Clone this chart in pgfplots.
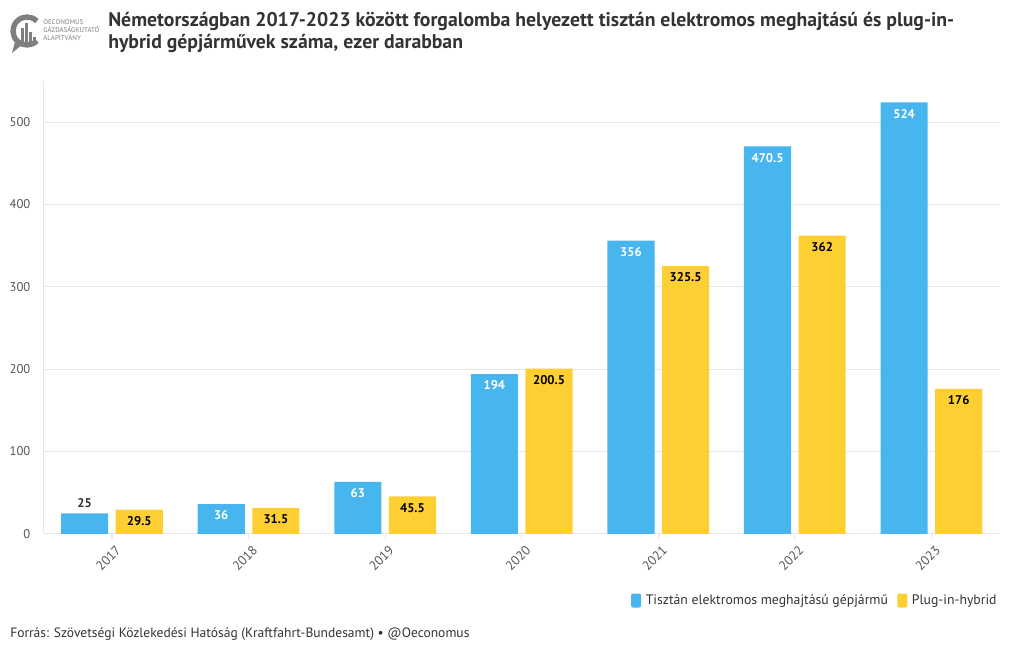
\documentclass[border=0pt]{standalone}
\usepackage{pgfplots}
\pgfplotsset{compat=1.18}
\usepackage{pgfplotstable}
\usepackage{fontspec}
\setmainfont{PT Sans}

\definecolor{bluebar}{HTML}{47B6EF}
\definecolor{yellowbar}{HTML}{FDCF32}
\definecolor{txt}{HTML}{333333}
\definecolor{ticktxt}{HTML}{555555}
\definecolor{gridc}{HTML}{E6E6E6}
\definecolor{logog}{HTML}{7F7F7F}

% values in thousand vehicles
\pgfplotstableread{
x ev phev
0 25 29.5
1 36 31.5
2 63 45.5
3 194 200.5
4 356 325.5
5 470.5 362
6 524 176
}\datatable

\begin{document}
\begin{tikzpicture}[x=0.75pt,y=0.75pt]
\path[use as bounding box] (0,0) rectangle (1020,650);

% logo
\draw[logog, line width=4pt] (27,619) ++(45:14) arc (45:315:14);
\fill[logog] (15,608) -- (12,597) -- (23,606) -- cycle;
\fill[logog] (21,607) rectangle (24,622);
\fill[logog] (25,607) rectangle (28,627);
\fill[logog] (29,607) rectangle (32,618);
\fill[logog] (33,607) rectangle (36,613);
\node[anchor=west, align=left, inner sep=0, text=logog,
      font=\fontsize{5.2}{6}\selectfont] at (43,620)
      {OECONOMUS\\GAZDASÁGKUTATÓ\\ALAPÍTVÁNY};

% title
\node[anchor=north west, align=left, inner sep=0, text=txt,
      font=\fontsize{14.8}{16.5}\selectfont\bfseries] at (108,638)
  {Németországban 2017-2023 között forgalomba helyezett tisztán elektromos meghajtású és plug-in-\\hybrid gépjárművek száma, ezer darabban};

\begin{axis}[
    at={(32,141)}, anchor=south west,
    scale only axis,
    width=717pt, height=339.75pt,
    xmin=-0.5, xmax=6.5,
    ymin=0, ymax=550,
    xtick={0,...,6},
    xticklabels={2017,2018,2019,2020,2021,2022,2023},
    ytick={0,100,200,300,400,500},
    axis x line*=bottom,
    axis y line*=left,
    axis line style={gridc, line width=0.8pt, -},
    ymajorgrids,
    grid style={gridc, line width=0.6pt},
    tick align=outside,
    ytick style={draw=none},
    xtick style={gridc, line width=0.8pt},
    major tick length=4pt,
    x tick label style={rotate=45, anchor=east, text=ticktxt,
        font=\fontsize{9.8}{11}\selectfont, inner sep=0pt, xshift=-1pt, yshift=-8pt},
    y tick label style={text=ticktxt, font=\fontsize{9.5}{11}\selectfont, xshift=-2.5pt},
    yticklabel style={/pgf/number format/assume math mode=true},
    legend style={at={(1.004,-0.148)}, anchor=east, draw=none, fill=none,
        legend columns=2, font=\fontsize{10.3}{12}\selectfont, text=txt,
        /tikz/every odd column/.append style={column sep=1.5pt},
        /tikz/every even column/.append style={column sep=5pt}},
    legend cell align=left,
]
\addplot[ybar, bar width=0.345, bar shift=-0.2, fill=bluebar, draw=none,
    legend image code/.code={\fill[bluebar, rounded corners=1.5pt] (0pt,-5pt) rectangle (7.5pt,5.5pt);}]
    table[x=x, y=ev] {\datatable};
\addlegendentry{Tisztán elektromos meghajtású gépjármű}
\addplot[ybar, bar width=0.345, bar shift=0.2, fill=yellowbar, draw=none,
    legend image code/.code={\fill[yellowbar, rounded corners=1.5pt] (0pt,-5pt) rectangle (7.5pt,5.5pt);}]
    table[x=x, y=phev] {\datatable};
\addlegendentry{Plug-in-hybrid}

% labels inside the blue bars
\addplot[forget plot, draw=none, mark=none, point meta=explicit symbolic,
    nodes near coords,
    nodes near coords style={anchor=north, text=white, yshift=-1.5pt,
        font=\fontsize{9.5}{11}\selectfont\bfseries}]
    coordinates {(0.8,36)[36] (1.8,63)[63] (2.8,194)[194] (3.8,356)[356]
                 (4.8,470.5)[470.5] (5.8,524)[524]};
% label above the short 2017 blue bar
\addplot[forget plot, draw=none, mark=none, point meta=explicit symbolic,
    nodes near coords,
    nodes near coords style={anchor=south, text=txt, yshift=1pt,
        font=\fontsize{9.5}{11}\selectfont\bfseries}]
    coordinates {(-0.2,25)[25]};
% labels inside the yellow bars
\addplot[forget plot, draw=none, mark=none, point meta=explicit symbolic,
    nodes near coords,
    nodes near coords style={anchor=north, text=black, yshift=-1.5pt,
        font=\fontsize{9.5}{11}\selectfont\bfseries}]
    coordinates {(0.2,29.5)[29.5] (1.2,31.5)[31.5] (2.2,45.5)[45.5] (3.2,200.5)[200.5]
                 (4.2,325.5)[325.5] (5.2,362)[362] (6.2,176)[176]};
\end{axis}

% footer
\node[anchor=base west, inner sep=0, text=txt, font=\fontsize{10.15}{12}\selectfont]
  at (10,13) {Forrás: Szövetségi Közlekedési Hatóság (Kraftfahrt-Bundesamt) • @Oeconomus};
\end{tikzpicture}
\end{document}
